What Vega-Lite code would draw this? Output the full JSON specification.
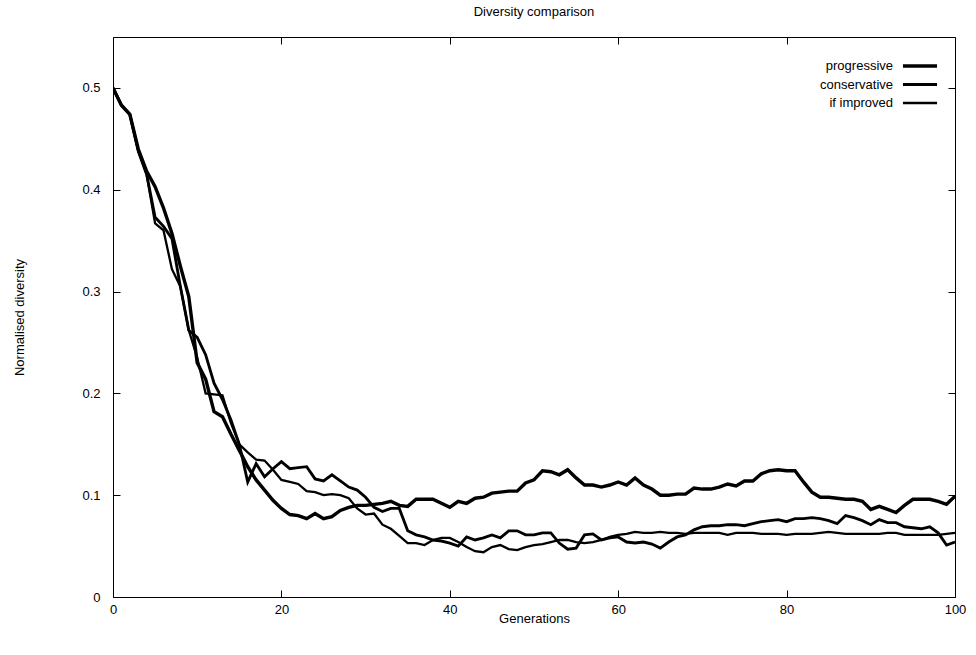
{
  "$schema": "https://vega.github.io/schema/vega-lite/v6.json",
  "width": 842,
  "height": 560,
  "autosize": {"type": "none"},
  "padding": {"left": 113, "top": 37, "right": 21, "bottom": 58},
  "background": "white",
  "config": {
    "font": "Liberation Sans",
    "view": {"stroke": "black", "strokeWidth": 1},
    "axis": {
      "domain": false,
      "grid": false,
      "tickColor": "black",
      "tickSize": -7,
      "labelColor": "black",
      "labelFontSize": 13,
      "titleColor": "black",
      "titleFontSize": 13,
      "titleFontWeight": "normal",
      "labelFlush": false,
      "labelOverlap": false
    }
  },
  "title": {"text": "Diversity comparison", "fontSize": 13, "fontWeight": "normal", "color": "black", "offset": 18, "anchor": "middle"},
  "data": {"values": [
    {"g":0,"progressive":0.500,"conservative":0.500,"if improved":0.500},
    {"g":1,"progressive":0.483,"conservative":0.483,"if improved":0.483},
    {"g":2,"progressive":0.474,"conservative":0.474,"if improved":0.474},
    {"g":3,"progressive":0.440,"conservative":0.438,"if improved":0.438},
    {"g":4,"progressive":0.418,"conservative":0.415,"if improved":0.415},
    {"g":5,"progressive":0.403,"conservative":0.373,"if improved":0.367},
    {"g":6,"progressive":0.382,"conservative":0.364,"if improved":0.360},
    {"g":7,"progressive":0.357,"conservative":0.352,"if improved":0.322},
    {"g":8,"progressive":0.325,"conservative":0.305,"if improved":0.305},
    {"g":9,"progressive":0.295,"conservative":0.262,"if improved":0.262},
    {"g":10,"progressive":0.230,"conservative":0.255,"if improved":0.235},
    {"g":11,"progressive":0.214,"conservative":0.238,"if improved":0.200},
    {"g":12,"progressive":0.182,"conservative":0.210,"if improved":0.199},
    {"g":13,"progressive":0.177,"conservative":0.194,"if improved":0.198},
    {"g":14,"progressive":0.160,"conservative":0.174,"if improved":0.171},
    {"g":15,"progressive":0.144,"conservative":0.150,"if improved":0.150},
    {"g":16,"progressive":0.128,"conservative":0.113,"if improved":0.142},
    {"g":17,"progressive":0.115,"conservative":0.131,"if improved":0.135},
    {"g":18,"progressive":0.105,"conservative":0.118,"if improved":0.134},
    {"g":19,"progressive":0.095,"conservative":0.126,"if improved":0.125},
    {"g":20,"progressive":0.087,"conservative":0.133,"if improved":0.115},
    {"g":21,"progressive":0.081,"conservative":0.126,"if improved":0.113},
    {"g":22,"progressive":0.080,"conservative":0.127,"if improved":0.111},
    {"g":23,"progressive":0.077,"conservative":0.128,"if improved":0.104},
    {"g":24,"progressive":0.082,"conservative":0.116,"if improved":0.103},
    {"g":25,"progressive":0.077,"conservative":0.114,"if improved":0.100},
    {"g":26,"progressive":0.079,"conservative":0.120,"if improved":0.101},
    {"g":27,"progressive":0.085,"conservative":0.114,"if improved":0.100},
    {"g":28,"progressive":0.088,"conservative":0.108,"if improved":0.097},
    {"g":29,"progressive":0.090,"conservative":0.105,"if improved":0.087},
    {"g":30,"progressive":0.090,"conservative":0.098,"if improved":0.081},
    {"g":31,"progressive":0.091,"conservative":0.088,"if improved":0.082},
    {"g":32,"progressive":0.092,"conservative":0.084,"if improved":0.071},
    {"g":33,"progressive":0.094,"conservative":0.087,"if improved":0.067},
    {"g":34,"progressive":0.090,"conservative":0.087,"if improved":0.060},
    {"g":35,"progressive":0.089,"conservative":0.065,"if improved":0.053},
    {"g":36,"progressive":0.096,"conservative":0.061,"if improved":0.053},
    {"g":37,"progressive":0.096,"conservative":0.059,"if improved":0.051},
    {"g":38,"progressive":0.096,"conservative":0.056,"if improved":0.056},
    {"g":39,"progressive":0.092,"conservative":0.055,"if improved":0.058},
    {"g":40,"progressive":0.088,"conservative":0.053,"if improved":0.058},
    {"g":41,"progressive":0.094,"conservative":0.050,"if improved":0.054},
    {"g":42,"progressive":0.092,"conservative":0.059,"if improved":0.049},
    {"g":43,"progressive":0.097,"conservative":0.056,"if improved":0.045},
    {"g":44,"progressive":0.098,"conservative":0.058,"if improved":0.044},
    {"g":45,"progressive":0.102,"conservative":0.061,"if improved":0.049},
    {"g":46,"progressive":0.103,"conservative":0.058,"if improved":0.051},
    {"g":47,"progressive":0.104,"conservative":0.065,"if improved":0.047},
    {"g":48,"progressive":0.104,"conservative":0.065,"if improved":0.046},
    {"g":49,"progressive":0.112,"conservative":0.061,"if improved":0.049},
    {"g":50,"progressive":0.115,"conservative":0.061,"if improved":0.051},
    {"g":51,"progressive":0.124,"conservative":0.063,"if improved":0.052},
    {"g":52,"progressive":0.123,"conservative":0.063,"if improved":0.054},
    {"g":53,"progressive":0.120,"conservative":0.053,"if improved":0.056},
    {"g":54,"progressive":0.125,"conservative":0.047,"if improved":0.056},
    {"g":55,"progressive":0.117,"conservative":0.048,"if improved":0.054},
    {"g":56,"progressive":0.110,"conservative":0.061,"if improved":0.053},
    {"g":57,"progressive":0.110,"conservative":0.062,"if improved":0.054},
    {"g":58,"progressive":0.108,"conservative":0.056,"if improved":0.056},
    {"g":59,"progressive":0.110,"conservative":0.058,"if improved":0.059},
    {"g":60,"progressive":0.113,"conservative":0.059,"if improved":0.061},
    {"g":61,"progressive":0.110,"conservative":0.054,"if improved":0.062},
    {"g":62,"progressive":0.117,"conservative":0.053,"if improved":0.064},
    {"g":63,"progressive":0.110,"conservative":0.054,"if improved":0.063},
    {"g":64,"progressive":0.106,"conservative":0.052,"if improved":0.063},
    {"g":65,"progressive":0.100,"conservative":0.048,"if improved":0.064},
    {"g":66,"progressive":0.100,"conservative":0.054,"if improved":0.063},
    {"g":67,"progressive":0.101,"conservative":0.059,"if improved":0.063},
    {"g":68,"progressive":0.101,"conservative":0.061,"if improved":0.062},
    {"g":69,"progressive":0.107,"conservative":0.066,"if improved":0.063},
    {"g":70,"progressive":0.106,"conservative":0.069,"if improved":0.063},
    {"g":71,"progressive":0.106,"conservative":0.070,"if improved":0.063},
    {"g":72,"progressive":0.108,"conservative":0.070,"if improved":0.063},
    {"g":73,"progressive":0.111,"conservative":0.071,"if improved":0.061},
    {"g":74,"progressive":0.109,"conservative":0.071,"if improved":0.063},
    {"g":75,"progressive":0.114,"conservative":0.070,"if improved":0.063},
    {"g":76,"progressive":0.114,"conservative":0.072,"if improved":0.063},
    {"g":77,"progressive":0.121,"conservative":0.074,"if improved":0.062},
    {"g":78,"progressive":0.124,"conservative":0.075,"if improved":0.062},
    {"g":79,"progressive":0.125,"conservative":0.076,"if improved":0.062},
    {"g":80,"progressive":0.124,"conservative":0.074,"if improved":0.061},
    {"g":81,"progressive":0.124,"conservative":0.077,"if improved":0.062},
    {"g":82,"progressive":0.113,"conservative":0.077,"if improved":0.062},
    {"g":83,"progressive":0.103,"conservative":0.078,"if improved":0.062},
    {"g":84,"progressive":0.098,"conservative":0.077,"if improved":0.063},
    {"g":85,"progressive":0.098,"conservative":0.075,"if improved":0.064},
    {"g":86,"progressive":0.097,"conservative":0.072,"if improved":0.063},
    {"g":87,"progressive":0.096,"conservative":0.080,"if improved":0.062},
    {"g":88,"progressive":0.096,"conservative":0.078,"if improved":0.062},
    {"g":89,"progressive":0.094,"conservative":0.075,"if improved":0.062},
    {"g":90,"progressive":0.086,"conservative":0.071,"if improved":0.062},
    {"g":91,"progressive":0.089,"conservative":0.076,"if improved":0.062},
    {"g":92,"progressive":0.086,"conservative":0.073,"if improved":0.063},
    {"g":93,"progressive":0.083,"conservative":0.073,"if improved":0.063},
    {"g":94,"progressive":0.090,"conservative":0.069,"if improved":0.061},
    {"g":95,"progressive":0.096,"conservative":0.068,"if improved":0.061},
    {"g":96,"progressive":0.096,"conservative":0.067,"if improved":0.061},
    {"g":97,"progressive":0.096,"conservative":0.069,"if improved":0.061},
    {"g":98,"progressive":0.094,"conservative":0.063,"if improved":0.061},
    {"g":99,"progressive":0.091,"conservative":0.051,"if improved":0.062},
    {"g":100,"progressive":0.099,"conservative":0.054,"if improved":0.063}
  ]},
  "transform": [{"fold": ["progressive", "conservative", "if improved"], "as": ["series", "value"]}],
  "layer": [
    {
      "mark": {"type": "line", "color": "black", "clip": true},
      "encoding": {
        "x": {"field": "g", "type": "quantitative", "scale": {"domain": [0, 100], "nice": false, "zero": false},
              "axis": {"orient": "bottom", "values": [0, 20, 40, 60, 80, 100], "title": "Generations", "labelPadding": 13, "titlePadding": -4}},
        "y": {"field": "value", "type": "quantitative", "scale": {"domain": [0, 0.55], "nice": false},
              "axis": {"orient": "left", "values": [0, 0.1, 0.2, 0.3, 0.4, 0.5], "format": "~g", "title": "Normalised diversity", "labelPadding": 20, "titlePadding": 55}},
        "strokeWidth": {"field": "series", "type": "nominal",
          "scale": {"domain": ["progressive", "conservative", "if improved"], "range": [3.4, 2.3, 0.8]},
          "legend": {"orient": "none", "legendX": 798, "legendY": 20, "title": null, "symbolType": "M-2.5,0H2.5", "symbolSize": 186,
                     "symbolStrokeColor": "black", "labelAlign": "right", "labelOffset": -36, "labelFontSize": 13, "labelColor": "black",
                     "rowPadding": 3, "padding": 0}}
      }
    },
    {
      "mark": {"type": "line", "opacity": 0},
      "encoding": {
        "x": {"field": "g", "type": "quantitative", "scale": {"domain": [0, 100], "nice": false, "zero": false},
              "axis": {"orient": "top", "values": [0, 20, 40, 60, 80, 100], "labels": false, "title": null}},
        "y": {"field": "value", "type": "quantitative", "scale": {"domain": [0, 0.55], "nice": false},
              "axis": {"orient": "right", "values": [0, 0.1, 0.2, 0.3, 0.4, 0.5], "labels": false, "title": null}},
        "detail": {"field": "series", "type": "nominal"}
      }
    }
  ],
  "resolve": {"axis": {"x": "independent", "y": "independent"}}
}
